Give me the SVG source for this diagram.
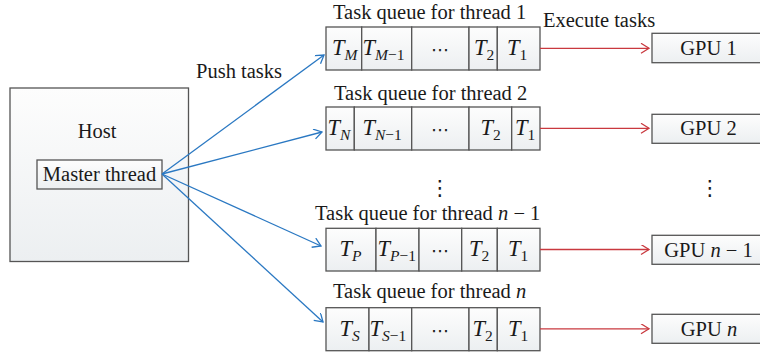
<svg xmlns="http://www.w3.org/2000/svg" width="760" height="353" viewBox="0 0 760 353">
<style>
.box{stroke:#555;stroke-width:1.3;fill:url(#g)}
.t{font-family:"Liberation Serif",serif;font-size:20.5px;fill:#1a1a1a}
.m{font-family:"Liberation Serif",serif;font-size:22.5px;font-style:italic;fill:#1a1a1a}
.s{font-size:15.5px}
.u{font-style:normal}
.d{font-family:"DejaVu Sans",sans-serif;font-size:18px;fill:#1a1a1a}
.v{font-family:"DejaVu Sans",sans-serif;font-size:21px;fill:#1a1a1a}
.blue{stroke:#2a78c2;stroke-width:1.3;fill:none;marker-end:url(#ab)}
.red{stroke:#c9393f;stroke-width:1.3;fill:none;marker-end:url(#ar)}
</style>
<defs>
<linearGradient id="g" x1="0" y1="0" x2="0" y2="1">
<stop offset="0" stop-color="#fdfdfd"/>
<stop offset="1" stop-color="#eceff1"/>
</linearGradient>
<marker id="ab" markerUnits="userSpaceOnUse" markerWidth="12" markerHeight="12" refX="9" refY="5" orient="auto">
<path d="M1,0 L9,5 L1,10" fill="none" stroke="#2a78c2" stroke-width="1.3"/>
</marker>
<marker id="ar" markerUnits="userSpaceOnUse" markerWidth="12" markerHeight="12" refX="9" refY="5" orient="auto">
<path d="M1,0 L9,5 L1,10" fill="none" stroke="#c9393f" stroke-width="1.3"/>
</marker>
</defs>

<g id="host">
<rect class="box" x="10" y="88" width="178.5" height="173.5"/>
<text class="t" x="97" y="138" text-anchor="middle">Host</text>
</g>
<g id="master">
<rect class="box" x="37" y="160" width="125" height="29"/>
<text class="t" x="99.5" y="181" text-anchor="middle">Master thread</text>
</g>

<g id="queue1">
<text class="t" x="333" y="19">Task queue for thread 1</text>
<rect class="box" x="326" y="27" width="35.7" height="43"/>
<rect class="box" x="361.7" y="27" width="50" height="43"/>
<rect class="box" x="411.7" y="27" width="57.3" height="43"/>
<rect class="box" x="469" y="27" width="28.3" height="43"/>
<rect class="box" x="497.3" y="27" width="42.7" height="43"/>
<text class="m" x="332" y="55">T<tspan class="s" dy="5">M</tspan></text>
<text class="m" x="362.5" y="55">T<tspan class="s" dy="5">M<tspan class="u">−1</tspan></tspan></text>
<text class="d" x="440" y="56" text-anchor="middle">⋯</text>
<text class="m" x="474" y="55">T<tspan class="s u" dy="5">2</tspan></text>
<text class="m" x="507" y="55">T<tspan class="s u" dy="5">1</tspan></text>
</g>

<g id="queue2">
<text class="t" x="334" y="100">Task queue for thread 2</text>
<rect class="box" x="326" y="107" width="28.3" height="43"/>
<rect class="box" x="354.3" y="107" width="57.4" height="43"/>
<rect class="box" x="411.7" y="107" width="57.3" height="43"/>
<rect class="box" x="469" y="107" width="42.7" height="43"/>
<rect class="box" x="511.7" y="107" width="28.3" height="43"/>
<text class="m" x="327.5" y="135">T<tspan class="s" dy="5">N</tspan></text>
<text class="m" x="362.5" y="135">T<tspan class="s" dy="5">N<tspan class="u">−1</tspan></tspan></text>
<text class="d" x="440" y="136" text-anchor="middle">⋯</text>
<text class="m" x="480.5" y="135">T<tspan class="s u" dy="5">2</tspan></text>
<text class="m" x="515" y="135">T<tspan class="s u" dy="5">1</tspan></text>
</g>

<g id="dots">
<text class="v" x="440" y="195" text-anchor="middle">⋮</text>
<text class="v" x="710" y="195" text-anchor="middle">⋮</text>
</g>

<g id="queue3">
<text class="t" x="315" y="220">Task queue for thread <tspan font-style="italic">n</tspan> − 1</text>
<rect class="box" x="326" y="228.3" width="50" height="42.7"/>
<rect class="box" x="376" y="228.3" width="43" height="42.7"/>
<rect class="box" x="419" y="228.3" width="42.7" height="42.7"/>
<rect class="box" x="461.7" y="228.3" width="35.6" height="42.7"/>
<rect class="box" x="497.3" y="228.3" width="42.7" height="42.7"/>
<text class="m" x="339.5" y="256">T<tspan class="s" dy="5">P</tspan></text>
<text class="m" x="377.5" y="256">T<tspan class="s" dy="5">P<tspan class="u">−1</tspan></tspan></text>
<text class="d" x="440" y="257" text-anchor="middle">⋯</text>
<text class="m" x="469" y="256">T<tspan class="s u" dy="5">2</tspan></text>
<text class="m" x="508" y="256">T<tspan class="s u" dy="5">1</tspan></text>
</g>

<g id="queue4">
<text class="t" x="333" y="298">Task queue for thread <tspan font-style="italic">n</tspan></text>
<rect class="box" x="326" y="307.7" width="43" height="43"/>
<rect class="box" x="369" y="307.7" width="42.7" height="43"/>
<rect class="box" x="411.7" y="307.7" width="57.3" height="43"/>
<rect class="box" x="469" y="307.7" width="28.3" height="43"/>
<rect class="box" x="497.3" y="307.7" width="42.7" height="43"/>
<text class="m" x="339.5" y="336">T<tspan class="s" dy="5">S</tspan></text>
<text class="m" x="369.5" y="336">T<tspan class="s" dy="5">S<tspan class="u">−1</tspan></tspan></text>
<text class="d" x="440" y="337" text-anchor="middle">⋯</text>
<text class="m" x="472.5" y="336">T<tspan class="s u" dy="5">2</tspan></text>
<text class="m" x="508" y="336">T<tspan class="s u" dy="5">1</tspan></text>
</g>

<g id="gpu1">
<rect class="box" x="652" y="33.3" width="112" height="29.4"/>
<text class="t" x="708.5" y="54.5" text-anchor="middle">GPU 1</text>
</g>
<g id="gpu2">
<rect class="box" x="652" y="114.3" width="112" height="29"/>
<text class="t" x="708.5" y="135" text-anchor="middle">GPU 2</text>
</g>
<g id="gpu3">
<rect class="box" x="652" y="235.3" width="112" height="29"/>
<text class="t" x="708.5" y="256.5" text-anchor="middle">GPU <tspan font-style="italic">n</tspan> − 1</text>
</g>
<g id="gpu4">
<rect class="box" x="652" y="314.3" width="112" height="29"/>
<text class="t" x="709" y="335.5" text-anchor="middle">GPU <tspan font-style="italic">n</tspan></text>
</g>

<g id="connectors">
<line class="blue" x1="162" y1="174" x2="324" y2="55"/>
<line class="blue" x1="162" y1="174" x2="322" y2="132"/>
<line class="blue" x1="162" y1="174" x2="321" y2="246"/>
<line class="blue" x1="162" y1="174" x2="323" y2="322"/>
<line class="red" x1="540" y1="48.3" x2="649" y2="48.3"/>
<line class="red" x1="540" y1="128.3" x2="649" y2="128.3"/>
<line class="red" x1="540" y1="249.5" x2="649" y2="249.5"/>
<line class="red" x1="540" y1="328.8" x2="649" y2="328.8"/>
<text class="t" x="196" y="78">Push tasks</text>
<text class="t" x="543" y="27">Execute tasks</text>
</g>
</svg>
